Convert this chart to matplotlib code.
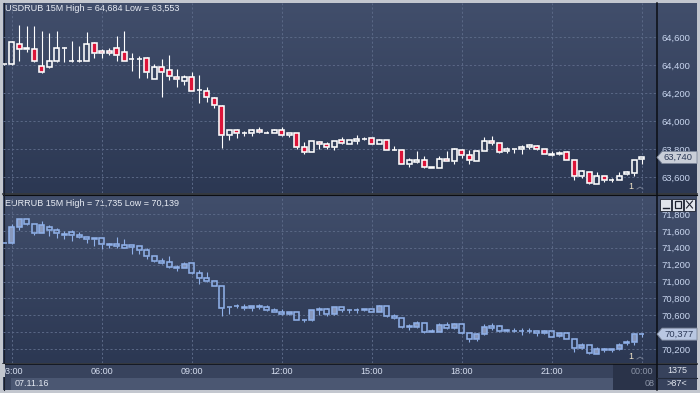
import matplotlib.pyplot as plt
import numpy as np
from matplotlib.colors import LinearSegmentedColormap
from matplotlib.patches import Polygon, Rectangle
from matplotlib.transforms import blended_transform_factory

plt.rcParams['font.family'] = ['Liberation Sans', 'DejaVu Sans']

# USDRUB 15M, 02:45 .. 00:00
usd_open = [64.405, 64.405, 64.549, 64.516, 64.513, 64.390, 64.383, 64.431, 64.523, 64.426,
            64.426, 64.431, 64.557, 64.499, 64.499, 64.520, 64.492, 64.441, 64.441, 64.448,
            64.301, 64.383, 64.361, 64.316, 64.289, 64.316, 64.219, 64.214, 64.166, 64.106,
            63.899, 63.935, 63.913, 63.913, 63.935, 63.918, 63.913, 63.935, 63.899, 63.913,
            63.812, 63.781, 63.853, 63.838, 63.814, 63.861, 63.838, 63.855, 63.870, 63.877,
            63.834, 63.863, 63.795, 63.790, 63.696, 63.708, 63.725, 63.667, 63.667, 63.732,
            63.711, 63.790, 63.754, 63.718, 63.783, 63.855, 63.846, 63.783, 63.797, 63.797,
            63.814, 63.819, 63.797, 63.768, 63.761, 63.776, 63.725, 63.605, 63.638, 63.553,
            63.607, 63.579, 63.579, 63.619, 63.629, 63.730]
usd_high = [64.410, 64.571, 64.684, 64.682, 64.682, 64.646, 64.629, 64.646, 64.528, 64.573,
            64.537, 64.636, 64.566, 64.516, 64.520, 64.610, 64.646, 64.487, 64.465, 64.458,
            64.407, 64.443, 64.472, 64.371, 64.328, 64.349, 64.328, 64.243, 64.171, 64.116,
            63.937, 63.944, 63.930, 63.940, 63.959, 63.930, 63.944, 63.959, 63.918, 63.913,
            63.851, 63.855, 63.855, 63.851, 63.855, 63.887, 63.863, 63.901, 63.887, 63.877,
            63.870, 63.863, 63.819, 63.790, 63.737, 63.783, 63.749, 63.675, 63.749, 63.785,
            63.805, 63.797, 63.790, 63.790, 63.887, 63.896, 63.846, 63.814, 63.797, 63.827,
            63.838, 63.827, 63.797, 63.785, 63.785, 63.785, 63.725, 63.653, 63.638, 63.634,
            63.607, 63.593, 63.636, 63.646, 63.725, 63.742]
usd_low = [64.400, 64.400, 64.431, 64.492, 64.424, 64.345, 64.381, 64.424, 64.424, 64.424,
           64.424, 64.429, 64.448, 64.448, 64.475, 64.431, 64.431, 64.359, 64.308, 64.304,
           64.301, 64.171, 64.292, 64.246, 64.260, 64.212, 64.128, 64.135, 64.091, 63.805,
           63.863, 63.882, 63.896, 63.894, 63.911, 63.913, 63.911, 63.894, 63.887, 63.802,
           63.768, 63.781, 63.802, 63.802, 63.790, 63.834, 63.834, 63.838, 63.866, 63.834,
           63.834, 63.795, 63.790, 63.696, 63.672, 63.701, 63.667, 63.662, 63.667, 63.711,
           63.696, 63.737, 63.696, 63.718, 63.783, 63.827, 63.773, 63.773, 63.773, 63.761,
           63.797, 63.790, 63.768, 63.751, 63.756, 63.725, 63.581, 63.595, 63.553, 63.553,
           63.564, 63.567, 63.579, 63.612, 63.605, 63.696]
usd_close = [64.405, 64.564, 64.513, 64.520, 64.431, 64.347, 64.426, 64.520, 64.525, 64.426,
             64.431, 64.549, 64.484, 64.484, 64.484, 64.470, 64.431, 64.446, 64.443, 64.347,
             64.383, 64.347, 64.325, 64.299, 64.316, 64.217, 64.222, 64.173, 64.118, 63.899,
             63.935, 63.918, 63.913, 63.935, 63.923, 63.918, 63.937, 63.899, 63.918, 63.812,
             63.778, 63.855, 63.838, 63.814, 63.855, 63.846, 63.861, 63.870, 63.870, 63.834,
             63.863, 63.795, 63.793, 63.696, 63.720, 63.725, 63.672, 63.672, 63.732, 63.711,
             63.797, 63.754, 63.723, 63.785, 63.855, 63.841, 63.781, 63.797, 63.797, 63.814,
             63.829, 63.797, 63.768, 63.756, 63.773, 63.725, 63.605, 63.641, 63.554, 63.607,
             63.581, 63.581, 63.610, 63.634, 63.725, 63.740]

# EURRUB 15M, same bars
eur_open = [71.460, 71.460, 71.642, 71.735, 71.677, 71.579, 71.642, 71.610, 71.559, 71.583,
            71.547, 71.523, 71.511, 71.511, 71.444, 71.440, 71.432, 71.428, 71.416, 71.369,
            71.298, 71.243, 71.227, 71.171, 71.164, 71.215, 71.096, 71.037, 71.009, 70.942,
            70.697, 70.713, 70.701, 70.689, 70.697, 70.697, 70.658, 70.642, 70.614, 70.634,
            70.547, 70.539, 70.658, 70.677, 70.610, 70.693, 70.665, 70.662, 70.662, 70.669,
            70.642, 70.709, 70.590, 70.563, 70.468, 70.464, 70.503, 70.412, 70.405, 70.484,
            70.444, 70.495, 70.385, 70.314, 70.373, 70.472, 70.472, 70.420, 70.416, 70.416,
            70.416, 70.412, 70.385, 70.416, 70.353, 70.385, 70.314, 70.207, 70.254, 70.140,
            70.195, 70.191, 70.195, 70.286, 70.286, 70.381]
eur_high = [71.462, 71.681, 71.735, 71.735, 71.677, 71.717, 71.670, 71.638, 71.598, 71.610,
            71.583, 71.527, 71.515, 71.515, 71.452, 71.523, 71.504, 71.432, 71.420, 71.401,
            71.298, 71.274, 71.302, 71.195, 71.227, 71.215, 71.136, 71.108, 71.009, 70.942,
            70.701, 70.729, 70.729, 70.713, 70.729, 70.721, 70.681, 70.673, 70.642, 70.634,
            70.555, 70.665, 70.693, 70.681, 70.693, 70.693, 70.673, 70.689, 70.673, 70.669,
            70.721, 70.709, 70.614, 70.563, 70.495, 70.535, 70.503, 70.436, 70.503, 70.523,
            70.503, 70.495, 70.385, 70.393, 70.495, 70.503, 70.484, 70.436, 70.444, 70.452,
            70.444, 70.416, 70.424, 70.416, 70.393, 70.397, 70.314, 70.274, 70.254, 70.219,
            70.207, 70.203, 70.266, 70.306, 70.385, 70.393]
eur_low = [71.458, 71.444, 71.610, 71.670, 71.551, 71.571, 71.543, 71.511, 71.500, 71.480,
           71.511, 71.452, 71.424, 71.385, 71.401, 71.393, 71.393, 71.330, 71.330, 71.266,
           71.227, 71.211, 71.164, 71.124, 71.160, 71.092, 70.970, 70.998, 70.942, 70.594,
           70.614, 70.689, 70.658, 70.650, 70.673, 70.650, 70.634, 70.602, 70.602, 70.539,
           70.523, 70.535, 70.602, 70.594, 70.598, 70.642, 70.630, 70.622, 70.650, 70.642,
           70.634, 70.582, 70.555, 70.444, 70.424, 70.452, 70.385, 70.397, 70.401, 70.436,
           70.432, 70.377, 70.286, 70.298, 70.365, 70.424, 70.397, 70.397, 70.397, 70.365,
           70.393, 70.357, 70.373, 70.345, 70.345, 70.314, 70.167, 70.195, 70.139, 70.140,
           70.167, 70.167, 70.187, 70.254, 70.246, 70.345]
eur_close = [71.460, 71.642, 71.735, 71.677, 71.579, 71.666, 71.606, 71.571, 71.547, 71.547,
             71.523, 71.504, 71.500, 71.440, 71.436, 71.424, 71.397, 71.405, 71.369, 71.298,
             71.239, 71.219, 71.175, 71.164, 71.203, 71.096, 71.037, 71.009, 70.942, 70.681,
             70.693, 70.705, 70.681, 70.709, 70.709, 70.658, 70.642, 70.610, 70.634, 70.543,
             70.539, 70.658, 70.677, 70.610, 70.693, 70.662, 70.658, 70.658, 70.669, 70.642,
             70.709, 70.590, 70.563, 70.464, 70.456, 70.503, 70.405, 70.408, 70.484, 70.444,
             70.495, 70.385, 70.314, 70.377, 70.464, 70.444, 70.416, 70.412, 70.412, 70.416,
             70.412, 70.385, 70.416, 70.345, 70.385, 70.314, 70.207, 70.246, 70.148, 70.195,
             70.191, 70.195, 70.254, 70.266, 70.373, 70.377]

time_idx = [1, 13, 25, 37, 49, 61, 73, 85]
time_labels = ['03:00', '06:00', '09:00', '12:00', '15:00', '18:00', '21:00', '00:00']
usd_ticks = [63.6, 63.8, 64.0, 64.2, 64.4, 64.6]
eur_ticks = [70.2, 70.4, 70.6, 70.8, 71.0, 71.2, 71.4, 71.6, 71.8]

W, H = 700, 393
BORDER = '#c3c7cf'
GRID = '#5a6886'
LABEL = '#c9d6ef'


def px_box(x0, y0, x1, y1):
    return [x0 / W, 1 - y1 / H, (x1 - x0) / W, (y1 - y0) / H]


def fmt(v):
    return '{:.3f}'.format(v).replace('.', ',')


def candle_axes(fig, box, ylim, ticks):
    ax = fig.add_axes(box, zorder=1)
    ax.set_facecolor('none')
    ax.set_xlim(-0.16, 86.97)
    ax.set_ylim(*ylim)
    for s in ax.spines.values():
        s.set_visible(False)
    ax.yaxis.tick_right()
    ax.set_yticks(ticks, [fmt(t) for t in ticks])
    ax.set_xticks(time_idx, [])
    ax.tick_params(length=0, labelcolor=LABEL, labelsize=6.8, pad=3.5)
    ax.grid(True, color=GRID, ls=(0, (2.2, 2.2)), lw=0.7)
    ax.set_axisbelow(True)
    return ax


def draw_candles(ax, o, h, l, c, edge, up_face, down_face, width=0.68):
    for i, (op, hi, lo, cl) in enumerate(zip(o, h, l, c)):
        top, bot = max(op, cl), min(op, cl)
        ax.plot([i, i], [top, hi], color=edge, lw=0.8, solid_capstyle='butt')
        ax.plot([i, i], [lo, bot], color=edge, lw=0.8, solid_capstyle='butt')
        face = up_face if cl > op else down_face
        ax.add_patch(Rectangle((i - width / 2, bot), width, top - bot,
                               facecolor=face, edgecolor=edge, lw=1.15, zorder=3))


fig = plt.figure(figsize=(7, 3.93), dpi=100)
fig.patch.set_facecolor(BORDER)

bg = fig.add_axes([0, 0, 1, 1], zorder=0)
bg.axis('off')
grad = LinearSegmentedColormap.from_list('panel', ['#414e6b', '#2c3853'])
ramp = np.linspace(0, 1, 64).reshape(-1, 1)
bg.imshow(ramp, cmap=grad, extent=(3, 697, 193, 3), aspect='auto')
bg.imshow(ramp, cmap=grad, extent=(3, 697, 363, 195.5), aspect='auto')
# time axis rows
bg.add_patch(Rectangle((3, 363.5), 694, 26.5, color='#38435d', lw=0))
bg.add_patch(Rectangle((11, 377.5), 602, 12.5, color='#4b5772', lw=0))
bg.add_patch(Rectangle((613, 364), 43.5, 26, color='#2a3349', lw=0))
bg.add_patch(Rectangle((657, 363.5), 40, 26.5, color='#37425c', lw=0))
# frame lines
bg.plot([3, 697], [193.5, 193.5], color='#0b0e14', lw=1.1)
bg.plot([3, 697], [195.3, 195.3], color='#0b0e14', lw=0.8)
bg.plot([3, 697], [363.5, 363.5], color='#0b0e14', lw=1.1)
bg.plot([656.5, 656.5], [3, 390], color='#0b0e14', lw=1.1)
bg.plot([657, 697], [377.5, 377.5], color='#232a3a', lw=0.8)
bg.plot([3.5, 3.5], [3, 390], color='#1a1f2b', lw=0.8)
bg.set_xlim(0, W)
bg.set_ylim(H, 0)

ax_usd = candle_axes(fig, px_box(3, 3, 656.5, 193), (63.486, 64.843), usd_ticks)
ax_eur = candle_axes(fig, px_box(3, 196, 656.5, 363), (70.035, 72.013), eur_ticks)

draw_candles(ax_usd, usd_open, usd_high, usd_low, usd_close,
             edge='#ffffff', up_face='none', down_face='#dc1439')
draw_candles(ax_eur, eur_open, eur_high, eur_low, eur_close,
             edge='#8fb0e8', up_face='#8797bb', down_face='none')

# overlay for tags and buttons, drawn above the tick labels
ov = fig.add_axes([0, 0, 1, 1], zorder=2)
ov.axis('off')
ov.set_xlim(0, W)
ov.set_ylim(H, 0)

bg.text(5, 8.5, 'USDRUB 15M High = {} Low = {}'.format(fmt(max(usd_high)), fmt(min(usd_low))),
        color='#e9edf5', fontsize=6.5, va='center', ha='left')
bg.text(5, 203.5, 'EURRUB 15M High = {} Low = {}'.format(fmt(max(eur_high)), fmt(min(eur_low))),
        color='#e9edf5', fontsize=6.5, va='center', ha='left')

# time labels under the lower panel
tr = blended_transform_factory(ax_eur.transData, bg.transData)
for idx, lab in zip(time_idx, time_labels):
    col = '#8c95a8' if lab == '00:00' else '#d6def0'
    bg.text(idx, 371, lab, transform=tr, color=col, fontsize=6.5, ha='center', va='center', zorder=2)
bg.add_patch(Rectangle((0, 364), 4.5, 13, color=BORDER, lw=0, zorder=3))
bg.text(15, 383.5, '07.11.16', color='#e2e7f1', fontsize=6.5, ha='left', va='center')
bg.text(655, 383.5, '08', color='#8c95a8', fontsize=6.5, ha='right', va='center')
bg.text(677, 370.5, '1375', color='#e2e7f1', fontsize=6.5, ha='center', va='center')
bg.text(677, 383.5, '>87<', color='#e2e7f1', fontsize=6.5, ha='center', va='center')


def price_tag(ax, price, face, text_col):
    y = ov.transData.inverted().transform(ax.transData.transform((0, price)))[1]
    ov.add_patch(Polygon([(657, y), (662, y - 6), (697, y - 6), (697, y + 6), (662, y + 6)],
                         closed=True, facecolor=face, edgecolor='#7d879b', lw=0.6, zorder=4))
    ov.text(664, y + 0.3, fmt(price), color=text_col, fontsize=6.8, ha='left', va='center', zorder=5)


price_tag(ax_usd, usd_close[-1], '#c9ced8', '#2d3a58')
price_tag(ax_eur, eur_close[-1], '#b9c7e2', '#2d3a58')

# "1" markers near the last bar
ov.text(631, 186.5, '1', color='#efe2c6', fontsize=6.5, ha='center', va='center')
ov.text(631, 356.5, '1', color='#efe2c6', fontsize=6.5, ha='center', va='center')
ov.plot([637, 640, 643], [189, 187, 189], color='#7c8598', lw=0.6)
ov.plot([637, 640, 643], [359, 357, 359], color='#7c8598', lw=0.6)

# window buttons on the lower panel
for k, x0 in enumerate([660, 672, 684]):
    ov.add_patch(Rectangle((x0, 198.5), 11, 12, facecolor='#e1e5ec', edgecolor='#1d2230', lw=0.6, zorder=4))
    if k == 0:
        ov.plot([x0 + 2.5, x0 + 8.5], [208, 208], color='#1d2230', lw=1.0, zorder=5)
    elif k == 1:
        ov.add_patch(Rectangle((x0 + 2.5, 201), 6, 7, facecolor='none', edgecolor='#1d2230', lw=0.9, zorder=5))
    else:
        ov.plot([x0 + 2.5, x0 + 8.5], [201, 208], color='#1d2230', lw=0.8, zorder=5)
        ov.plot([x0 + 2.5, x0 + 8.5], [208, 201], color='#1d2230', lw=0.8, zorder=5)

fig.savefig('out.png', dpi=100, facecolor=fig.get_facecolor())
